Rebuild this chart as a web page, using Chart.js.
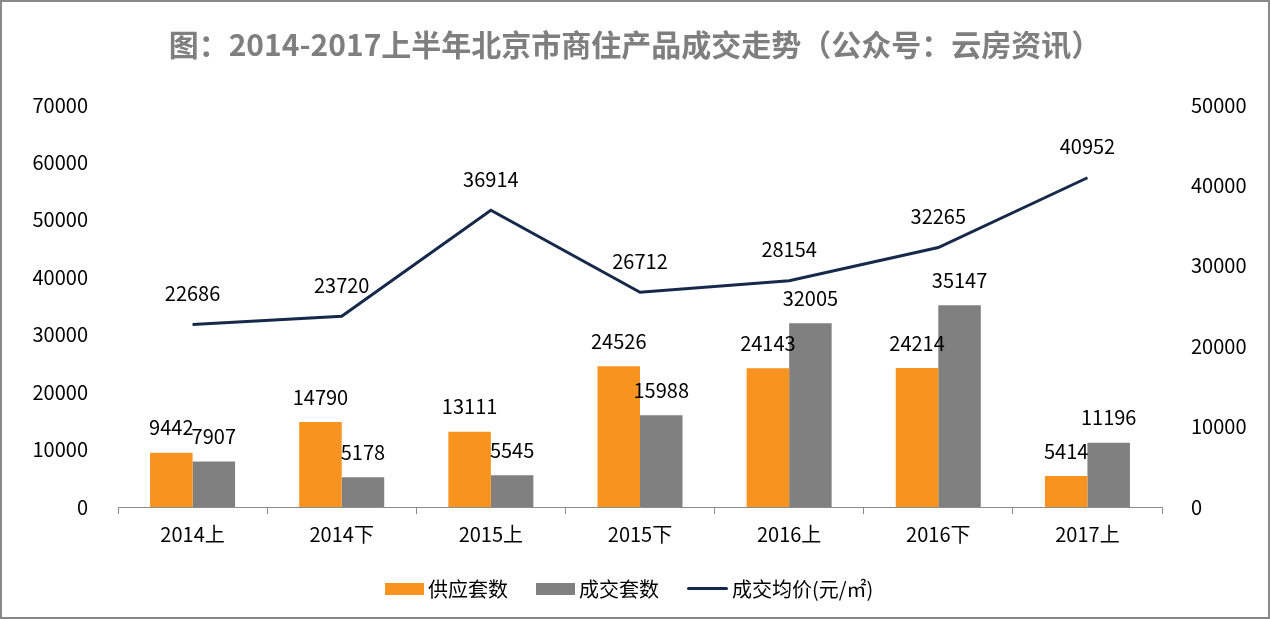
<!DOCTYPE html>
<html>
<head>
    <meta charset="UTF-8">
    <title>北京市商住产品成交走势</title>
    <script src="https://cdn.jsdelivr.net/npm/chart.js@4.4.0/dist/chart.umd.min.js"></script>
    <style>
        body { margin: 0; background: #fff; }
        .box {
            position: relative; width: 1270px; height: 619px;
            box-sizing: border-box; border: 2px solid #898989; background: #fff;
        }
        .legend {
            position: absolute; top: 572px; left: 383px;
            font-family: "Noto Sans CJK SC", sans-serif; font-size: 20px; color: #000;
            display: flex; align-items: center; white-space: nowrap;
        }
        .legend span { display: inline-flex; align-items: center; margin-right: 28px; }
        .legend i { display: inline-block; width: 39px; height: 12px; margin-right: 4px; }
        .legend i.ln { height: 3px; border-radius: 2px; width: 41px; }
    </style>
</head>
<body>

<div class="box">
    <canvas id="chart" width="1266" height="615"></canvas>
    <div class="legend">
        <span><i style="background:#F7931E"></i>供应套数</span>
        <span><i style="background:#808080"></i>成交套数</span>
        <span><i class="ln" style="background:#17294A"></i>成交均价(元/㎡)</span>
    </div>
</div>

<script>
    // 数据
    var categories = ['2014上', '2014下', '2015上', '2015下', '2016上', '2016下', '2017上'];
    var supply = [9442, 14790, 13111, 24526, 24143, 24214, 5414];      // 供应套数
    var deals = [7907, 5178, 5545, 15988, 32005, 35147, 11196];        // 成交套数
    var avgPrice = [22686, 23720, 36914, 26712, 28154, 32265, 40952];  // 成交均价

    var font = '"Noto Sans CJK SC", sans-serif';

    // 数值标签
    var valueLabels = {
        id: 'valueLabels',
        afterDatasetsDraw: function (chart) {
            var ctx = chart.ctx;
            ctx.save();
            ctx.font = '20px ' + font;
            ctx.fillStyle = '#000';
            ctx.textAlign = 'center';
            ctx.textBaseline = 'middle';
            chart.data.datasets.forEach(function (ds, i) {
                var meta = chart.getDatasetMeta(i);
                var off = ds.type === 'line' ? 31 : 25;
                meta.data.forEach(function (el, j) {
                    ctx.fillText(String(ds.data[j]), el.x, el.y - off);
                });
            });
            ctx.restore();
        }
    };

    var plain = function (v) { return String(v); };

    new Chart(document.getElementById('chart'), {
        data: {
            labels: categories,
            datasets: [
                {
                    type: 'line', label: '成交均价(元/㎡)', data: avgPrice, yAxisID: 'y1',
                    borderColor: '#17294A', borderWidth: 3, pointRadius: 0, tension: 0, order: 0
                },
                {
                    type: 'bar', label: '供应套数', data: supply, yAxisID: 'y',
                    backgroundColor: '#F7931E', categoryPercentage: 0.57, barPercentage: 1, order: 1
                },
                {
                    type: 'bar', label: '成交套数', data: deals, yAxisID: 'y',
                    backgroundColor: '#808080', categoryPercentage: 0.57, barPercentage: 1, order: 1
                }
            ]
        },
        options: {
            responsive: false,
            animation: false,
            layout: { padding: { left: 0, right: 0, top: 0, bottom: 50 } },
            plugins: {
                legend: { display: false },
                tooltip: { enabled: false },
                title: {
                    display: true,
                    text: '图：2014-2017上半年北京市商住产品成交走势（公众号：云房资讯）',
                    color: '#7F7F7F',
                    font: { family: font, size: 30, weight: 'bold' },
                    padding: { top: 25, bottom: 42 }
                }
            },
            scales: {
                x: {
                    offset: true,
                    grid: { offset: true, drawOnChartArea: false, drawTicks: true, tickLength: 7, color: '#8C8C8C' },
                    border: { color: '#8C8C8C', width: 1 },
                    ticks: { color: '#000', font: { family: font, size: 20 }, padding: 8 },
                    afterFit: function (s) { s.height = 60; }
                },
                y: {
                    position: 'left', min: 0, max: 70000,
                    grid: { display: false },
                    border: { display: false },
                    ticks: { stepSize: 10000, callback: plain, color: '#000', font: { family: font, size: 20 }, padding: 22 },
                    afterFit: function (s) { s.width = 116; }
                },
                y1: {
                    position: 'right', min: 0, max: 50000,
                    grid: { display: false },
                    border: { display: false },
                    ticks: { stepSize: 10000, callback: plain, color: '#000', font: { family: font, size: 20 }, padding: 21 },
                    afterFit: function (s) { s.width = 106; }
                }
            }
        },
        plugins: [valueLabels]
    });
</script>

</body>
</html>
